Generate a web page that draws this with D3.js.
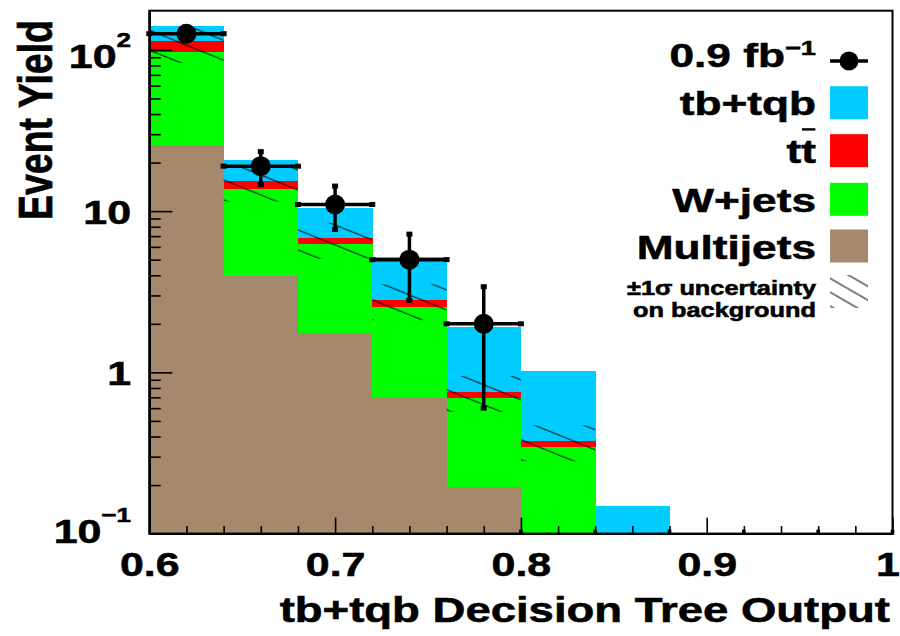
<!DOCTYPE html>
<html>
<head>
<meta charset="utf-8">
<script src="https://cdn.jsdelivr.net/npm/d3@7"></script>
<style>
  html, body { margin: 0; padding: 0; background: #fff; }
  svg { display: block; }
</style>
</head>
<body>
<svg id="chart" width="900" height="636"></svg>
<script>
// ---- data ----------------------------------------------------------------
const binEdges   = [0.60, 0.64, 0.68, 0.72, 0.76, 0.80, 0.84, 0.88, 0.92, 0.96, 1.00];
const multijets  = [25.7, 3.97, 1.75, 0.69, 0.195, 0,     0,     0, 0, 0];
const wjets      = [70.7, 9.83, 4.47, 1.86, 0.495, 0.346, 0,     0, 0, 0];
const ttbar      = [17.3, 1.50, 0.55, 0.26, 0.068, 0.029, 0,     0, 0, 0];
const signal     = [27.2, 5.60, 3.73, 2.35, 1.14,  0.645, 0.149, 0, 0, 0];
const bkgRelUnc  = [0.27, 0.25, 0.25, 0.25, 0.25,  0.25,  0,     0, 0, 0];

const dataX      = [0.62, 0.66, 0.70, 0.74, 0.78];
const dataYield  = [126, 19, 11, 5, 2];
const dataErr    = [11.2, 4.4, 3.3, 2.2, 1.4];
const dataHalfW  = 0.02;

const xTickValues = [0.6, 0.7, 0.8, 0.9, 1.0];
const xTickLabels = ["0.6", "0.7", "0.8", "0.9", "1"];
const yTickValues = [0.1, 1, 10, 100];
const yTickLabels = [["10", "\u22121"], ["1", ""], ["10", ""], ["10", "2"]];

const seriesKeys   = ["multijets", "wjets", "ttbar", "signal"];
const seriesColors = { multijets: "#a6886c", wjets: "#00ff00", ttbar: "#ff0000", signal: "#00ccff" };

// ---- layout --------------------------------------------------------------
const SX = 1.3;                       // horizontal stretch of the lettering
const FONT = "'Liberation Sans', Arial, Helvetica, sans-serif";
const TEXT_STROKE = 0.55;             // extra weight on the bold lettering
const plot = { left: 149.3, right: 892.5, top: 10.7, bottom: 533.6 };

const svg = d3.select("#chart");

const x = d3.scaleLinear().domain([0.6, 1.0]).range([plot.left, plot.right]);
const y = d3.scaleLog().domain([0.1, 175]).range([plot.bottom, plot.top]).clamp(true);
const ys = v => y(Math.max(v, 1e-4));

// bins as rows for the stack
const bins = binEdges.slice(0, -1).map((lo, i) => ({
  lo, hi: binEdges[i + 1],
  multijets: multijets[i], wjets: wjets[i], ttbar: ttbar[i], signal: signal[i],
  unc: bkgRelUnc[i]
}));
const stacked = d3.stack().keys(seriesKeys)(bins);

// hatch pattern for the background uncertainty
const defs = svg.append("defs");
const pat = defs.append("pattern")
  .attr("id", "hatch").attr("patternUnits", "userSpaceOnUse")
  .attr("width", 80).attr("height", 18.5)
  .attr("patternTransform", "rotate(22)");
pat.append("line").attr("x1", 0).attr("x2", 80).attr("y1", 9).attr("y2", 9)
  .attr("stroke", "#000").attr("stroke-width", 1);

const patLeg = defs.append("pattern")
  .attr("id", "hatchLegend").attr("patternUnits", "userSpaceOnUse")
  .attr("width", 80).attr("height", 12)
  .attr("patternTransform", "rotate(30)");
patLeg.append("line").attr("x1", 0).attr("x2", 80).attr("y1", 6).attr("y2", 6)
  .attr("stroke", "#000").attr("stroke-width", 1);

defs.append("clipPath").attr("id", "plotclip").append("rect")
  .attr("x", plot.left).attr("y", plot.top)
  .attr("width", plot.right - plot.left).attr("height", plot.bottom - plot.top);

// ---- stacked histograms --------------------------------------------------
const gHist = svg.append("g").attr("clip-path", "url(#plotclip)");
stacked.forEach(layer => {
  gHist.append("g").attr("fill", seriesColors[layer.key]).attr("shape-rendering", "crispEdges")
    .selectAll("rect").data(layer.filter(d => d[1] > d[0])).join("rect")
      .attr("x", d => x(d.data.lo))
      .attr("width", d => x(d.data.hi) - x(d.data.lo) + 0.5)
      .attr("y", d => ys(d[1]))
      .attr("height", d => ys(d[0]) - ys(d[1]));
});

// background uncertainty band
gHist.append("g").selectAll("rect")
  .data(bins.filter(b => b.unc > 0)).join("rect")
    .attr("fill", "url(#hatch)")
    .attr("x", d => x(d.lo))
    .attr("width", d => x(d.hi) - x(d.lo))
    .attr("y", d => { const b = d.multijets + d.wjets + d.ttbar; return ys(b * (1 + d.unc)); })
    .attr("height", d => { const b = d.multijets + d.wjets + d.ttbar; return ys(b * (1 - d.unc)) - ys(b * (1 + d.unc)); });

// ---- axes ----------------------------------------------------------------
const minorY = [];
for (let e = -1; e <= 2; e++) for (let m = 2; m <= 9; m++) {
  const v = m * Math.pow(10, e);
  if (v < 175) minorY.push(v);
}
const minorX = d3.range(0, 21).map(i => 0.6 + i * 0.02).filter(v => Math.abs((v * 10) - Math.round(v * 10)) > 1e-6);

function styleAxis(g) {
  g.selectAll("path.domain").attr("stroke", "#000").attr("stroke-width", 2);
  g.selectAll(".tick line").attr("stroke", "#000").attr("stroke-width", 1.6);
  g.selectAll(".tick text").remove();
}

svg.append("g").attr("transform", `translate(${plot.left},0)`)
  .call(d3.axisLeft(y).tickValues(minorY).tickSizeInner(-11.5).tickSizeOuter(0).tickFormat(""))
  .call(styleAxis);
svg.append("g").attr("transform", `translate(${plot.left},0)`)
  .call(d3.axisLeft(y).tickValues(yTickValues).tickSizeInner(-23).tickSizeOuter(0).tickFormat(""))
  .call(styleAxis);

svg.append("g").attr("transform", `translate(0,${plot.bottom})`)
  .call(d3.axisBottom(x).tickValues(minorX).tickSizeInner(-7.5).tickSizeOuter(0).tickFormat(""))
  .call(styleAxis);
const xMajor = svg.append("g").attr("transform", `translate(0,${plot.bottom})`)
  .call(d3.axisBottom(x).tickValues(xTickValues).tickSizeInner(-16).tickSizeOuter(0).tickPadding(19)
        .tickFormat((d, i) => xTickLabels[i]));
xMajor.selectAll("path.domain").attr("stroke", "#000").attr("stroke-width", 2);
xMajor.selectAll(".tick line").attr("stroke", "#000").attr("stroke-width", 1.6);
xMajor.selectAll(".tick text")
  .attr("fill", "#000").attr("stroke", "#000").attr("stroke-width", TEXT_STROKE)
  .attr("font-family", FONT).attr("font-weight", "bold")
  .attr("font-size", 33)
  // the last label sits against the canvas edge, nudge it inwards
  .attr("transform", (d, i) => `translate(${i === xTickValues.length - 1 ? -5 : 0},0) scale(${SX},1)`);

// small edge marks of the empty histogram bins along the axis
svg.append("g").selectAll("rect")
  .data(binEdges.filter((e, i) => i > 0 && (multijets[i - 1] === 0 || multijets[i] === 0 || i === binEdges.length - 1)))
  .join("rect")
    .attr("x", d => x(d) - 1.8).attr("width", 3.6)
    .attr("y", plot.bottom - 4).attr("height", 5).attr("fill", "#000");

// ---- text helper ---------------------------------------------------------
function stretched(xp, yp, size, anchor, extra) {
  const g = svg.append("g").attr("transform", `translate(${xp},${yp}) scale(${SX},1)${extra || ""}`);
  return g.append("text").attr("text-anchor", anchor)
    .attr("font-family", FONT).attr("font-weight", "bold").attr("font-size", size)
    .attr("fill", "#000").attr("stroke", "#000").attr("stroke-width", TEXT_STROKE);
}

// y tick labels with exponents
yTickValues.forEach((v, i) => {
  const [base, expo] = yTickLabels[i];
  const by = expo ? Math.min(y(v) + 18, plot.bottom + 9.5) : y(v) + 12.5;
  const t = stretched(131, by, 33, "end");
  t.append("tspan").text(base);
  if (expo) t.append("tspan").attr("font-size", 20).attr("dy", -21).text(expo);
});

// ---- frame ---------------------------------------------------------------
svg.append("rect")
  .attr("x", plot.left).attr("y", plot.top)
  .attr("width", plot.right - plot.left).attr("height", plot.bottom - plot.top)
  .attr("fill", "none").attr("stroke", "#000").attr("stroke-width", 2);

// ---- data points ---------------------------------------------------------
const gData = svg.append("g");
dataX.forEach((cx, i) => {
  const v = dataYield[i], e = dataErr[i];
  const px = x(cx), py = y(v);
  const x0 = x(cx - dataHalfW), x1 = x(cx + dataHalfW);
  const yt = y(v + e), yb = y(v - e);
  gData.append("line").attr("x1", x0).attr("x2", x1).attr("y1", py).attr("y2", py)
    .attr("stroke", "#000").attr("stroke-width", 3.5);
  gData.append("line").attr("x1", px).attr("x2", px).attr("y1", yt).attr("y2", yb)
    .attr("stroke", "#000").attr("stroke-width", 3.5);
  [[x0, py], [x1, py], [px, yt], [px, yb]].forEach(([cxp, cyp]) =>
    gData.append("rect").attr("x", cxp - 3).attr("y", cyp - 2.5).attr("width", 6).attr("height", 5).attr("fill", "#000"));
  gData.append("circle").attr("cx", px).attr("cy", py).attr("r", 10).attr("fill", "#000");
});

// ---- titles --------------------------------------------------------------
stretched(52, 20, 37.5, "end", " rotate(-90)").text("Event Yield");
stretched(890, 622, 35, "end").text("tb+tqb Decision Tree Output");

// ---- legend --------------------------------------------------------------
const legX = 816, boxX = 830, boxW = 38, boxH = 33;
// data entry
const lt = stretched(legX, 67, 34, "end");
lt.append("tspan").text("0.9 fb");
lt.append("tspan").attr("font-size", 21).attr("dy", -12).text("\u22121");
svg.append("line").attr("x1", boxX).attr("x2", boxX + boxW).attr("y1", 61).attr("y2", 61)
  .attr("stroke", "#000").attr("stroke-width", 3.5);
svg.append("circle").attr("cx", boxX + boxW / 2).attr("cy", 61).attr("r", 9.5).attr("fill", "#000");

const legendRows = [
  { key: "signal",    label: "tb+tqb",    cy: 102.7 },
  { key: "ttbar",     label: "tt",        cy: 150.7 },
  { key: "wjets",     label: "W+jets",    cy: 199.3 },
  { key: "multijets", label: "Multijets", cy: 246.0 }
];
legendRows.forEach(r => {
  svg.append("rect").attr("x", boxX).attr("y", r.cy - boxH / 2).attr("width", boxW).attr("height", boxH)
    .attr("fill", seriesColors[r.key]);
  const t = stretched(legX, r.cy + 12.5, 34, "end").text(r.label);
  if (r.key === "ttbar") {
    // bar over the second t (anti-top)
    const ext = t.node().getExtentOfChar(1);
    d3.select(t.node().parentNode).append("rect")
      .attr("x", ext.x + 0.5).attr("width", ext.width - 1)
      .attr("y", -35).attr("height", 2.4).attr("fill", "#000");
  }
});

// uncertainty entry
svg.append("rect").attr("x", boxX).attr("y", 275).attr("width", boxW).attr("height", 33)
  .attr("fill", "url(#hatchLegend)");
stretched(legX, 295, 19.5, "end").text("\u00b11\u03c3 uncertainty");
stretched(legX, 317, 19.5, "end").text("on background");
</script>
</body>
</html>
